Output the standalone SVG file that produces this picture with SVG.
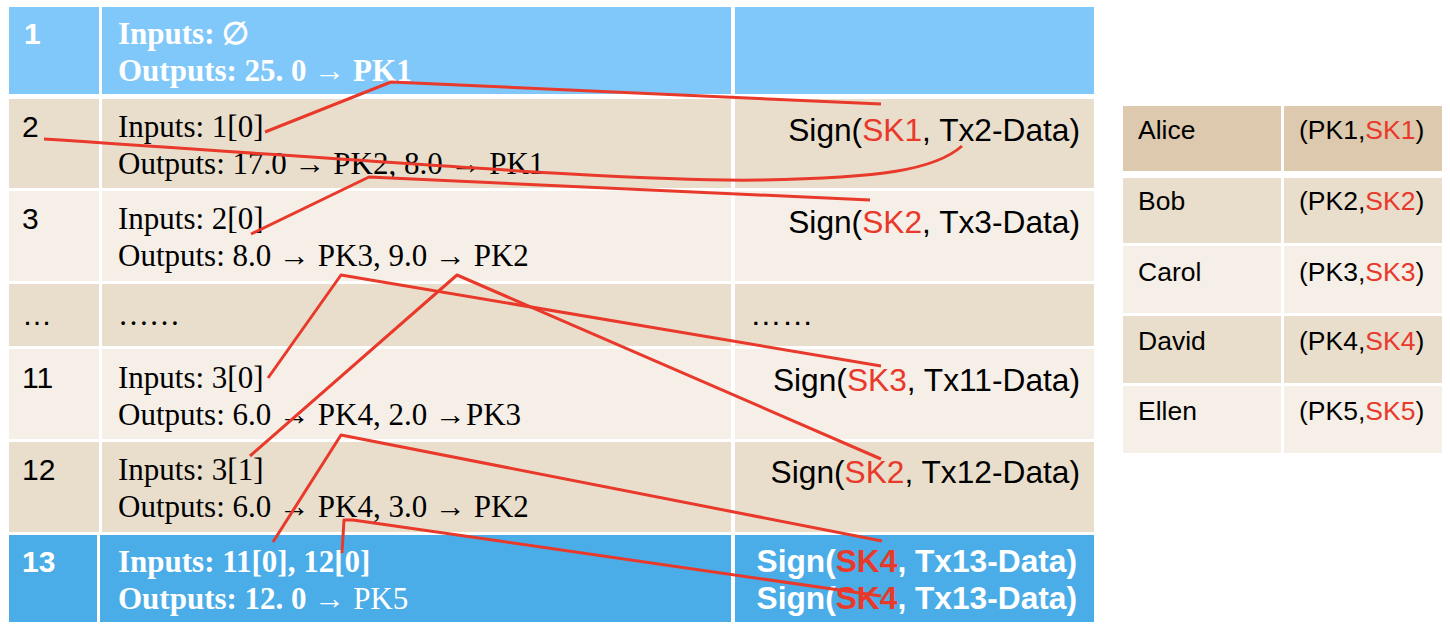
<svg xmlns="http://www.w3.org/2000/svg" width="1450" height="628" viewBox="0 0 1450 628">
<style>
.ser{font-family:"Liberation Serif","Times New Roman",serif;font-size:31px;fill:#000}
.sans{font-family:"Liberation Sans",Arial,sans-serif;font-size:31.7px;fill:#000}
.num{font-family:"Liberation Sans",Arial,sans-serif;font-size:30px;fill:#000}
.sm{font-family:"Liberation Sans",Arial,sans-serif;font-size:26.5px;fill:#000}
.b{font-weight:bold}
.w{fill:#fff}
.r{fill:#E8392B}
.end{text-anchor:end}
.blue1{fill:#80C8FA}
.blue2{fill:#4BADE8}
.tan{fill:#E9DECC}
.lt{fill:#F5EFE7}
.dk{fill:#DDC9AD}
.ln{fill:none;stroke:#E8392B;stroke-width:3;stroke-linejoin:round;stroke-linecap:butt}
</style>
<rect width="1450" height="628" fill="#fff"/>
<g id="tx1">
<rect class="blue1" x="9" y="7" width="90" height="87"/><rect class="blue1" x="102" y="7" width="629" height="87"/><rect class="blue1" x="735" y="7" width="359" height="87"/>
<text x="24" y="44" class="num b w">1</text>
<text x="118" y="44" class="ser b w">Inputs: ∅</text>
<text x="118" y="81" class="ser b w">Outputs: 25. 0 → PK1</text>
</g>
<g id="tx2">
<rect class="tan" x="9" y="99" width="90" height="89"/><rect class="tan" x="102" y="99" width="629" height="89"/><rect class="tan" x="735" y="99" width="359" height="89"/>
<text x="22" y="137" class="num">2</text>
<text x="118" y="137" class="ser">Inputs: 1[0]</text>
<text x="118" y="174" class="ser">Outputs: 17.0 → PK2, 8.0 → PK1</text>
<text x="1080" y="141" class="sans end">Sign(<tspan class="r">SK1</tspan>, Tx2-Data)</text>
</g>
<g id="tx3">
<rect class="lt" x="9" y="191" width="90" height="90"/><rect class="lt" x="102" y="191" width="629" height="90"/><rect class="lt" x="735" y="191" width="359" height="90"/>
<text x="22" y="229" class="num">3</text>
<text x="118" y="229" class="ser">Inputs: 2[0]</text>
<text x="118" y="266" class="ser">Outputs: 8.0 → PK3, 9.0 → PK2</text>
<text x="1080" y="233" class="sans end">Sign(<tspan class="r">SK2</tspan>, Tx3-Data)</text>
</g>
<g id="txdots">
<rect class="tan" x="9" y="284" width="90" height="62"/><rect class="tan" x="102" y="284" width="629" height="62"/><rect class="tan" x="735" y="284" width="359" height="62"/>
<text x="22" y="325" class="num">…</text>
<text x="118" y="325" class="ser">……</text>
<text x="750" y="325" class="sans">……</text>
</g>
<g id="tx11">
<rect class="lt" x="9" y="349" width="90" height="90"/><rect class="lt" x="102" y="349" width="629" height="90"/><rect class="lt" x="735" y="349" width="359" height="90"/>
<text x="22" y="388" class="num">11</text>
<text x="118" y="388" class="ser">Inputs: 3[0]</text>
<text x="118" y="425" class="ser">Outputs: 6.0 → PK4, 2.0 →PK3</text>
<text x="1080" y="391" class="sans end">Sign(<tspan class="r">SK3</tspan>, Tx11-Data)</text>
</g>
<g id="tx12">
<rect class="tan" x="9" y="442" width="90" height="90"/><rect class="tan" x="102" y="442" width="629" height="90"/><rect class="tan" x="735" y="442" width="359" height="90"/>
<text x="22" y="480" class="num">12</text>
<text x="118" y="480" class="ser">Inputs: 3[1]</text>
<text x="118" y="517" class="ser">Outputs: 6.0 → PK4, 3.0 → PK2</text>
<text x="1080" y="483" class="sans end">Sign(<tspan class="r">SK2</tspan>, Tx12-Data)</text>
</g>
<g id="tx13">
<rect class="blue2" x="9" y="535" width="88" height="87"/><rect class="blue2" x="100" y="535" width="631" height="87"/><rect class="blue2" x="735" y="535" width="359" height="87"/>
<text x="22" y="572" class="num b w">13</text>
<text x="118" y="572" class="ser b w">Inputs: 11[0], 12[0]</text>
<text x="118" y="609" class="ser b w">Outputs: 12. 0 → <tspan font-weight="normal">PK5</tspan></text>
<text x="1077" y="572" class="sans b w end">Sign(<tspan class="r">SK4</tspan>, Tx13-Data)</text>
<text x="1077" y="609" class="sans b w end">Sign(<tspan class="r">SK4</tspan>, Tx13-Data)</text>
</g>
<g id="keys">
<g id="alice"><rect class="dk" x="1123" y="106" width="158" height="65"/><rect class="dk" x="1284" y="106" width="158" height="65"/>
<text x="1138" y="139" class="sm">Alice</text><text x="1299" y="139" class="sm">(PK1,<tspan class="r">SK1</tspan>)</text></g>
<g id="bob"><rect class="tan" x="1123" y="178" width="158" height="65"/><rect class="tan" x="1284" y="178" width="158" height="65"/>
<text x="1138" y="210" class="sm">Bob</text><text x="1299" y="210" class="sm">(PK2,<tspan class="r">SK2</tspan>)</text></g>
<g id="carol"><rect class="lt" x="1123" y="246" width="158" height="67"/><rect class="lt" x="1284" y="246" width="158" height="67"/>
<text x="1138" y="281" class="sm">Carol</text><text x="1299" y="281" class="sm">(PK3,<tspan class="r">SK3</tspan>)</text></g>
<g id="david"><rect class="tan" x="1123" y="316" width="158" height="67"/><rect class="tan" x="1284" y="316" width="158" height="67"/>
<text x="1138" y="350" class="sm">David</text><text x="1299" y="350" class="sm">(PK4,<tspan class="r">SK4</tspan>)</text></g>
<g id="ellen"><rect class="lt" x="1123" y="386" width="158" height="67"/><rect class="lt" x="1284" y="386" width="158" height="67"/>
<text x="1138" y="420" class="sm">Ellen</text><text x="1299" y="420" class="sm">(PK5,<tspan class="r">SK5</tspan>)</text></g>
</g>
<g id="connectors">
<path class="ln" d="M265 132 L391 82 L881 104"/>
<path class="ln" d="M44 139 C420 164 640 182 760 180 C880 178 935 170 962 146"/>
<path class="ln" d="M251 234 L369 177 L870 200"/>
<path class="ln" d="M268 378 L341 275 L881 366"/>
<path class="ln" d="M250 456 L457 275 L881 459"/>
<path class="ln" d="M273 542 L341 435 L882 541"/>
<path class="ln" d="M342 553 L344 520 L353 520 L881 596"/>
</g>
</svg>
